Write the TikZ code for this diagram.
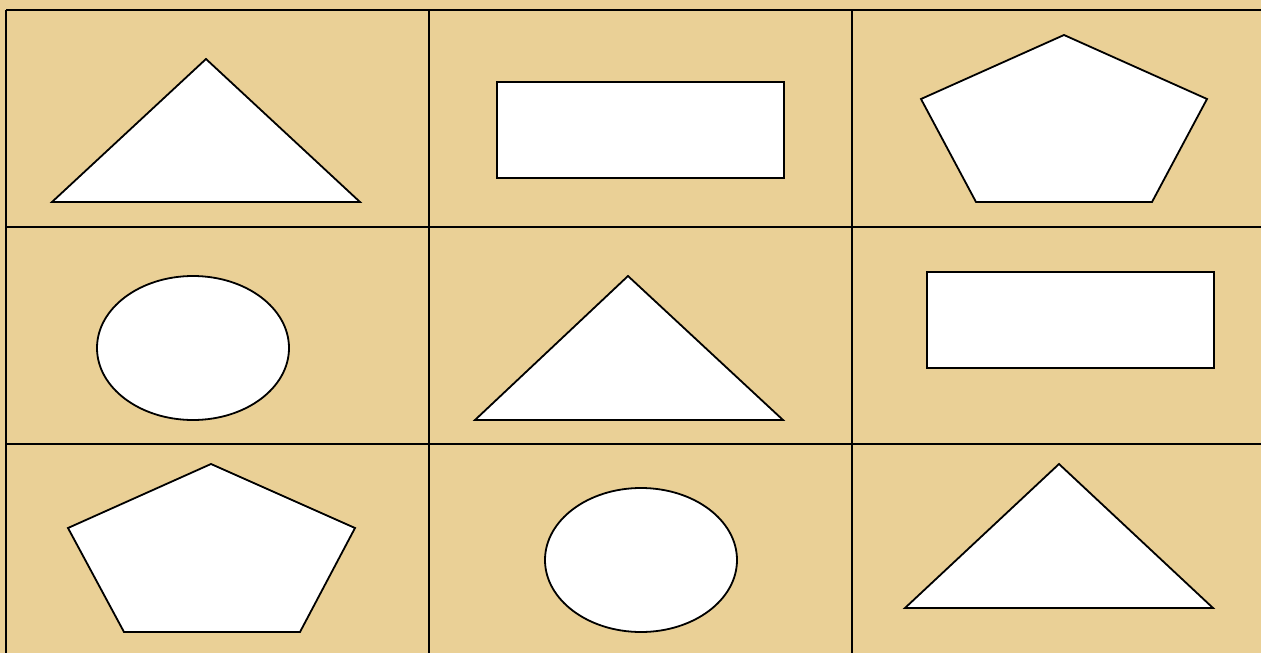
\documentclass[tikz,border=0pt]{standalone}
\usetikzlibrary{shapes.geometric}
\definecolor{parch}{RGB}{234,208,150}
\begin{document}
\begin{tikzpicture}[x=1pt,y=-1pt,
  grid/.style={draw=black,line width=1.3pt},
  shapeout/.style={draw=black,fill=white,line width=1.8pt,line join=miter}]
\useasboundingbox (0,0) rectangle (1261,653);
\fill[parch] (0,0) rectangle (1261,653);
% grid
\draw[grid] (6,10) -- (1261,10);
\draw[grid] (6,10) -- (6,653);
\draw[grid] (429,10) -- (429,653);
\draw[grid] (852,10) -- (852,653);
\draw[grid] (6,227) -- (1261,227);
\draw[grid] (6,444) -- (1261,444);
% row 1
\draw[shapeout] (52,202) -- (206,59) -- (360,202) -- cycle;
\draw[shapeout] (497,82) rectangle (784,178);
\draw[shapeout] (1064,35) -- (1207,99) -- (1152,202) -- (976,202) -- (921,99) -- cycle;
% row 2
\draw[shapeout] (193,348) ellipse [x radius=96, y radius=72];
\draw[shapeout] (475,420) -- (628,276) -- (783,420) -- cycle;
\draw[shapeout] (927,272) rectangle (1214,368);
% row 3
\draw[shapeout] (211,464) -- (355,528) -- (300,632) -- (124,632) -- (68,528) -- cycle;
\draw[shapeout] (641,560) ellipse [x radius=96, y radius=72];
\draw[shapeout] (905,608) -- (1059,464) -- (1213,608) -- cycle;
\end{tikzpicture}
\end{document}
